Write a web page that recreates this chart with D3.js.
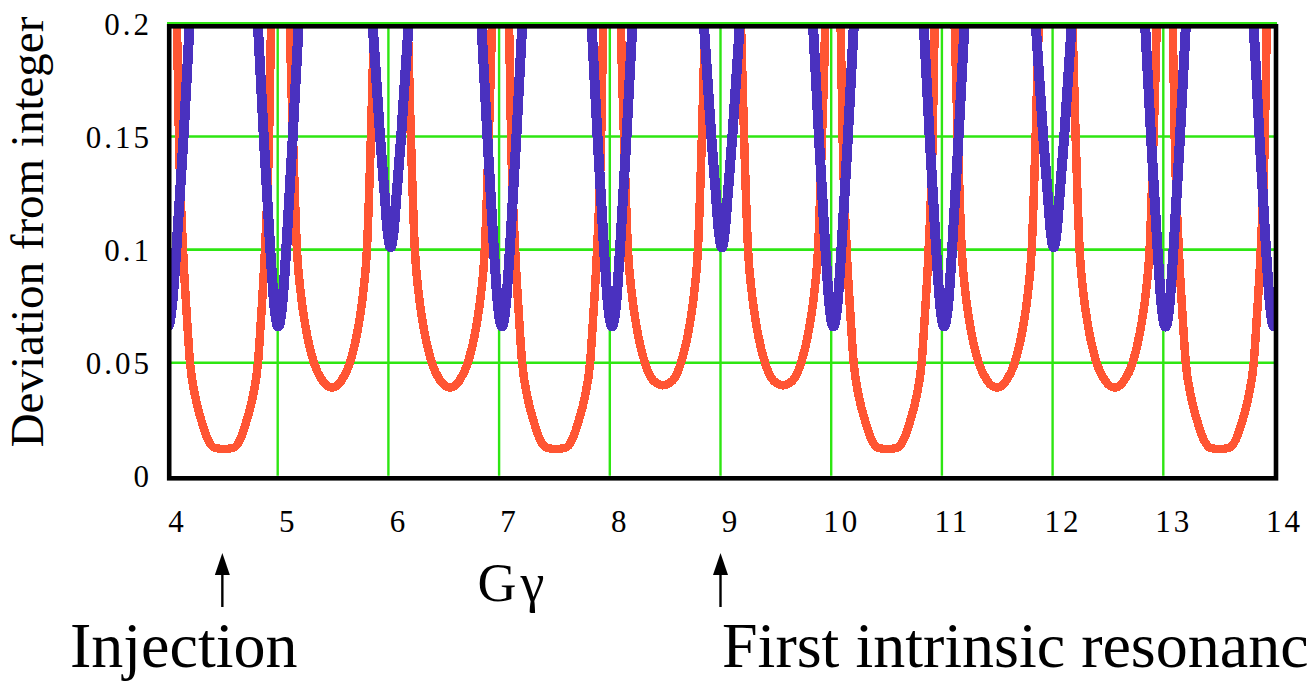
<!DOCTYPE html>
<html>
<head>
<meta charset="utf-8">
<script src="https://cdn.jsdelivr.net/npm/d3@7"></script>
<style>
  html, body { margin: 0; padding: 0; background: #ffffff; }
  svg { display: block; }
  text { font-family: "Liberation Serif", "Times New Roman", serif; fill: #000; }
</style>
</head>
<body>
<svg id="chart" width="1308" height="681"></svg>
<script>
// Axis ticks
const xTicks = [4, 5, 6, 7, 8, 9, 10, 11, 12, 13, 14];
const yTicks = [0, 0.05, 0.1, 0.15, 0.2];
const yTickLabels = ["0", "0.05", "0.1", "0.15", "0.2"];
const xGridValues = [5, 6, 7, 8, 9, 10, 11, 12, 13];
const yGridValues = [0.05, 0.1, 0.15, 0.2];

// Red curve: Gγ and deviation (values above 0.2 run off the top of the frame)
const redGg = [
  3.99,
  4.09, 4.108, 4.145, 4.18, 4.208, 4.255, 4.307, 4.37, 4.425, 4.515, 4.605, 4.66, 4.723, 4.775, 4.822, 4.85, 4.885, 4.922, 4.94,
  5.025,
  5.11, 5.138, 5.174, 5.21, 5.255, 5.327, 5.405, 5.49, 5.575, 5.653, 5.725, 5.77, 5.806, 5.842, 5.87,
  6.02,
  6.175, 6.203, 6.239, 6.275, 6.32, 6.392, 6.47, 6.555, 6.64, 6.718, 6.79, 6.835, 6.871, 6.907, 6.935,
  7.01,
  7.09, 7.108, 7.145, 7.18, 7.208, 7.255, 7.307, 7.37, 7.425, 7.515, 7.605, 7.66, 7.723, 7.775, 7.822, 7.85, 7.885, 7.922, 7.94,
  8.025,
  8.1, 8.128, 8.164, 8.2, 8.245, 8.317, 8.395, 8.48, 8.565, 8.643, 8.715, 8.76, 8.796, 8.832, 8.86,
  9.02,
  9.185, 9.213, 9.249, 9.285, 9.33, 9.402, 9.48, 9.565, 9.65, 9.728, 9.8, 9.845, 9.881, 9.917, 9.945,
  10.01,
  10.085, 10.103, 10.14, 10.175, 10.203, 10.25, 10.302, 10.365, 10.42, 10.51, 10.6, 10.655, 10.718, 10.77, 10.817, 10.845, 10.88, 10.917, 10.935,
  11.02,
  11.115, 11.143, 11.179, 11.215, 11.26, 11.332, 11.41, 11.495, 11.58, 11.658, 11.73, 11.775, 11.811, 11.847, 11.875,
  12.03,
  12.18, 12.208, 12.244, 12.28, 12.325, 12.397, 12.475, 12.56, 12.645, 12.723, 12.795, 12.84, 12.876, 12.912, 12.94,
  13.015,
  13.085, 13.103, 13.14, 13.175, 13.203, 13.25, 13.302, 13.365, 13.42, 13.51, 13.6, 13.655, 13.718, 13.77, 13.817, 13.845, 13.88, 13.917, 13.935,
  14.02
];
const redDev = [
  0.6,
  0.2, 0.15, 0.1, 0.07, 0.05, 0.035, 0.025, 0.016, 0.0125, 0.0118, 0.0125, 0.016, 0.025, 0.035, 0.05, 0.07, 0.1, 0.15, 0.2,
  0.6,
  0.2, 0.15, 0.1, 0.08, 0.065, 0.05, 0.042, 0.039, 0.042, 0.05, 0.065, 0.08, 0.1, 0.15, 0.2,
  0.6,
  0.2, 0.15, 0.1, 0.08, 0.065, 0.05, 0.042, 0.039, 0.042, 0.05, 0.065, 0.08, 0.1, 0.15, 0.2,
  0.6,
  0.2, 0.15, 0.1, 0.07, 0.05, 0.035, 0.025, 0.016, 0.0125, 0.0118, 0.0125, 0.016, 0.025, 0.035, 0.05, 0.07, 0.1, 0.15, 0.2,
  0.6,
  0.2, 0.15, 0.1, 0.08, 0.065, 0.05, 0.042, 0.04, 0.042, 0.05, 0.065, 0.08, 0.1, 0.15, 0.2,
  0.6,
  0.2, 0.15, 0.1, 0.08, 0.065, 0.05, 0.042, 0.04, 0.042, 0.05, 0.065, 0.08, 0.1, 0.15, 0.2,
  0.6,
  0.2, 0.15, 0.1, 0.07, 0.05, 0.035, 0.025, 0.016, 0.0125, 0.0118, 0.0125, 0.016, 0.025, 0.035, 0.05, 0.07, 0.1, 0.15, 0.2,
  0.6,
  0.2, 0.15, 0.1, 0.08, 0.065, 0.05, 0.042, 0.039, 0.042, 0.05, 0.065, 0.08, 0.1, 0.15, 0.2,
  0.6,
  0.2, 0.15, 0.1, 0.08, 0.065, 0.05, 0.042, 0.039, 0.042, 0.05, 0.065, 0.08, 0.1, 0.15, 0.2,
  0.6,
  0.2, 0.15, 0.1, 0.07, 0.05, 0.035, 0.025, 0.016, 0.0125, 0.0118, 0.0125, 0.016, 0.025, 0.035, 0.05, 0.07, 0.1, 0.15, 0.2,
  0.6
];

// Blue curve: Gγ and deviation
const blueGg = [
  3.965, 4.01, 4.045, 4.085, 4.15, 4.205,
  4.5,
  4.82, 4.874, 4.933, 4.97, 5.005, 5.04, 5.077, 5.136, 5.19,
  5.51,
  5.857, 5.925, 5.965, 5.993, 6.02, 6.047, 6.075, 6.115, 6.183,
  6.52,
  6.84, 6.894, 6.953, 6.99, 7.025, 7.06, 7.097, 7.156, 7.21,
  7.52,
  7.835, 7.889, 7.948, 7.985, 8.02, 8.055, 8.092, 8.151, 8.205,
  8.51,
  8.849, 8.917, 8.957, 8.985, 9.012, 9.039, 9.067, 9.107, 9.175,
  9.52,
  9.835, 9.889, 9.948, 9.985, 10.02, 10.055, 10.092, 10.151, 10.205,
  10.52,
  10.835, 10.889, 10.948, 10.985, 11.02, 11.055, 11.092, 11.151, 11.205,
  11.51,
  11.847, 11.915, 11.955, 11.983, 12.01, 12.037, 12.065, 12.105, 12.173,
  12.52,
  12.835, 12.889, 12.948, 12.985, 13.02, 13.055, 13.092, 13.151, 13.205,
  13.5,
  13.815, 13.869, 13.928, 13.965, 14.0, 14.035
];
const blueDev = [
  0.075, 0.066, 0.075, 0.1, 0.15, 0.2,
  0.6,
  0.2, 0.15, 0.1, 0.075, 0.066, 0.075, 0.1, 0.15, 0.2,
  0.6,
  0.2, 0.15, 0.125, 0.108, 0.101, 0.108, 0.125, 0.15, 0.2,
  0.6,
  0.2, 0.15, 0.1, 0.075, 0.066, 0.075, 0.1, 0.15, 0.2,
  0.6,
  0.2, 0.15, 0.1, 0.075, 0.066, 0.075, 0.1, 0.15, 0.2,
  0.6,
  0.2, 0.15, 0.125, 0.108, 0.101, 0.108, 0.125, 0.15, 0.2,
  0.6,
  0.2, 0.15, 0.1, 0.075, 0.066, 0.075, 0.1, 0.15, 0.2,
  0.6,
  0.2, 0.15, 0.1, 0.075, 0.066, 0.075, 0.1, 0.15, 0.2,
  0.6,
  0.2, 0.15, 0.125, 0.108, 0.101, 0.108, 0.125, 0.15, 0.2,
  0.6,
  0.2, 0.15, 0.1, 0.075, 0.066, 0.075, 0.1, 0.15, 0.2,
  0.6,
  0.2, 0.15, 0.1, 0.075, 0.066, 0.075
];

// Annotated Gγ positions below the axis
const markerGg = [4.5, 9];
const markerText = ["Injection", "First intrinsic resonanc"];

const svg = d3.select("#chart");

const x = d3.scaleLinear().domain([4, 14]).range([167, 1274]);
const y = d3.scaleLinear().domain([0, 0.2]).range([475.8, 23.4]);

const GREEN = "#2ee612";
const RED = "#ff5533";
const BLUE = "#4a31bf";

// Grid
const grid = svg.append("g");
grid.selectAll("line.h").data(yGridValues).join("line")
  .attr("x1", 167).attr("x2", 1277)
  .attr("y1", d => y(d)).attr("y2", d => y(d))
  .attr("stroke", GREEN).attr("stroke-width", 2.6);
grid.selectAll("line.v").data(xGridValues).join("line")
  .attr("x1", d => x(d)).attr("x2", d => x(d))
  .attr("y1", y(0.2)).attr("y2", y(0))
  .attr("stroke", GREEN).attr("stroke-width", 2.4);

// Curves, clipped to the plotting frame
svg.append("defs").append("clipPath").attr("id", "plotClip")
  .append("rect")
  .attr("x", x(4)).attr("y", y(0.2) + 1.2)
  .attr("width", x(14) - x(4)).attr("height", y(0) - y(0.2));

const line = d3.line()
  .x(d => x(d[0]))
  .y(d => y(d[1]))
  .curve(d3.curveMonotoneX);

const curves = svg.append("g").attr("clip-path", "url(#plotClip)");
curves.append("path")
  .attr("d", line(d3.zip(redGg, redDev)))
  .attr("fill", "none").attr("stroke", RED).attr("stroke-width", 8.5)
  .attr("stroke-linejoin", "round")
  .attr("shape-rendering", "crispEdges");
curves.append("path")
  .attr("d", line(d3.zip(blueGg, blueDev)))
  .attr("fill", "none").attr("stroke", BLUE).attr("stroke-width", 10)
  .attr("stroke-linejoin", "round")
  .attr("shape-rendering", "crispEdges");

// Frame
svg.append("rect")
  .attr("x", 169.2).attr("y", 26.3)
  .attr("width", 1276 - 169.2).attr("height", 478.3 - 26.3)
  .attr("fill", "none").attr("stroke", "#000").attr("stroke-width", 4.6);

// Axes (labels only)
const yAxis = svg.append("g")
  .attr("transform", `translate(${x(4)},0)`)
  .call(d3.axisLeft(y).tickValues(yTicks)
    .tickFormat((d, i) => yTickLabels[i]).tickSize(0).tickPadding(15));
yAxis.select(".domain").remove();
yAxis.selectAll("text")
  .attr("dy", "0.36em")
  .style("font-size", "31px")
  .style("letter-spacing", "3px")
  .style("font-family", "'Liberation Serif', serif")
  .attr("fill", "#000");

const xAxis = svg.append("g")
  .attr("transform", `translate(0,${y(0)})`)
  .call(d3.axisBottom(x).tickValues(xTicks).tickFormat(d3.format("d"))
    .tickSize(0).tickPadding(34));
xAxis.select(".domain").remove();
xAxis.selectAll("text")
  .attr("dx", 10)
  .style("font-size", "31px")
  .style("letter-spacing", "3px")
  .style("font-family", "'Liberation Serif', serif")
  .attr("fill", "#000");

// Axis titles
svg.append("text")
  .attr("transform", "translate(43,232) rotate(-90)")
  .attr("text-anchor", "middle")
  .style("font-size", "47px")
  .text("Deviation from integer");

svg.append("text")
  .attr("x", 513).attr("y", 601)
  .attr("text-anchor", "middle")
  .style("font-size", "54px")
  .style("letter-spacing", "4px")
  .text("Gγ");

// Arrows with captions
const marks = svg.append("g");
markerGg.forEach((g, i) => {
  const cx = x(g);
  marks.append("line")
    .attr("x1", cx).attr("x2", cx)
    .attr("y1", 607).attr("y2", 572)
    .attr("stroke", "#000").attr("stroke-width", 2.4);
  marks.append("path")
    .attr("d", `M${cx},553 L${cx - 7.5},575 L${cx + 7.5},575 Z`)
    .attr("fill", "#000");
});
marks.append("text")
  .attr("x", 70).attr("y", 667)
  .style("font-size", "64px")
  .text(markerText[0]);
marks.append("text")
  .attr("x", x(markerGg[1]) + 1.5).attr("y", 667)
  .style("font-size", "64px")
  .text(markerText[1]);
</script>
</body>
</html>
